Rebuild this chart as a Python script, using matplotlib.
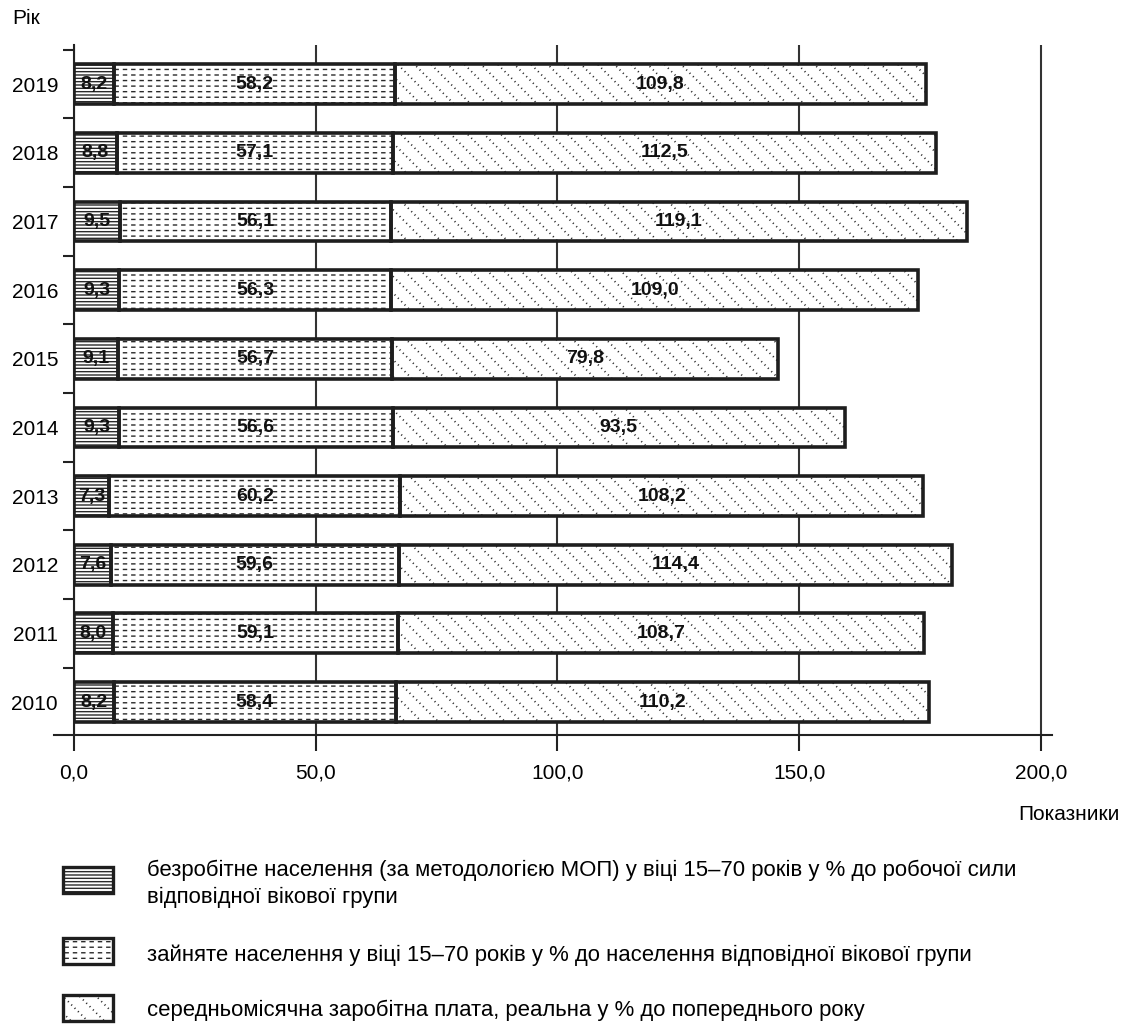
import matplotlib
matplotlib.use('Agg')
import matplotlib.pyplot as plt
from matplotlib.patches import Rectangle
import numpy as np

years = ['2010', '2011', '2012', '2013', '2014', '2015', '2016', '2017', '2018', '2019']
unemployed = [8.2, 8.0, 7.6, 7.3, 9.3, 9.1, 9.3, 9.5, 8.8, 8.2]
employed = [58.4, 59.1, 59.6, 60.2, 56.6, 56.7, 56.3, 56.1, 57.1, 58.2]
wages = [110.2, 108.7, 114.4, 108.2, 93.5, 79.8, 109.0, 119.1, 112.5, 109.8]
x_ticks = [0, 50, 100, 150, 200]
x_tick_labels = ['0,0', '50,0', '100,0', '150,0', '200,0']
legend_labels = [
    ['безробітне населення (за методологією МОП) у віці 15–70 років у % до робочої сили',
     'відповідної вікової групи'],
    ['зайняте населення у віці 15–70 років у % до населення відповідної вікової групи'],
    ['середньомісячна заробітна плата, реальна у % до попереднього року'],
]

plt.rcParams['font.family'] = ['Liberation Sans', 'DejaVu Sans']
plt.rcParams['hatch.linewidth'] = 1.0

W, H = 1126, 1025
fig = plt.figure(figsize=(W / 100, H / 100), dpi=100)
ax = fig.add_axes([74 / W, 1 - 735 / H, (1052 - 74) / W, (735 - 45) / H])

# (line hatch, line colour, line width, breaking hatch (white) or None, white width)
styles = [
    ('-----', '#2a2a2a', 1.0, None, 0),
    ('---', '#2a2a2a', 1.0, '||', 2.8),
    ('\\\\', '#2a2a2a', 1.3, '/////', 2.6),
]
edge = '#1e1e1e'


def set_hlw(p, w):
    try:
        p.set_hatch_linewidth(w)
    except AttributeError:
        pass


y = np.arange(len(years))
h = 0.58
left = np.zeros(len(years))
for vals, (hatch, hc, hw, brk, bw) in zip([unemployed, employed, wages], styles):
    vals = np.array(vals)
    plt.rcParams['hatch.linewidth'] = hw
    bars = ax.barh(y, vals, left=left, height=h, color='white', hatch=hatch,
                   edgecolor=hc, linewidth=0, zorder=2)
    for p in bars:
        set_hlw(p, hw)
    if brk:
        plt.rcParams['hatch.linewidth'] = bw
        bars2 = ax.barh(y, vals, left=left, height=h, fill=False, hatch=brk,
                        edgecolor='white', linewidth=0, zorder=2.5)
        for p in bars2:
            set_hlw(p, bw)
    ax.barh(y, vals, left=left, height=h, fill=False, edgecolor=edge,
            linewidth=2.6, zorder=3)
    for yi, l, v in zip(y, left, vals):
        ax.text(l + v / 2, yi, f'{v:.1f}'.replace('.', ','), ha='center', va='center',
                fontsize=14, fontweight='bold', color='#111111', zorder=4)
    left = left + vals

ax.set_xlim(0, 202.3)
ax.set_ylim(-0.48, 9.57)
for s in ['top', 'right', 'bottom']:
    ax.spines[s].set_visible(False)
ax.spines['left'].set_linewidth(1.5)
ax.spines['left'].set_color('#222222')
ax.set_axisbelow(True)
ax.xaxis.grid(True, color='#333333', linewidth=1.5)
ax.set_xticks(x_ticks)
ax.set_xticklabels(x_tick_labels)
ax.tick_params(axis='x', length=11.5, width=1.5, color='#222222', pad=9, labelsize=15)
ax.plot([-20 / 978, 1], [0, 0], transform=ax.transAxes, clip_on=False,
        color='#222222', linewidth=1.5)
ax.set_yticks(y)
ax.set_yticklabels(years)
ax.set_yticks(y + 0.5, minor=True)
ax.tick_params(axis='y', which='major', length=0, pad=11.5, labelsize=15)
ax.tick_params(axis='y', which='minor', length=8, width=1.5, color='#222222')

fig.text(12 / W, 1 - 19 / H, 'Рік', fontsize=15, va='center', ha='left')
fig.text(1120 / W, 1 - 815 / H, 'Показники', fontsize=15, va='center', ha='right')

legend_rows = [(870, 880), (955, 951), (1010, 1008)]
pw, ph = 50, 26
for (hatch, hc, hw, brk, bw), lines, (ty, py) in zip(styles, legend_labels, legend_rows):
    xy = (63 / W, 1 - (py + ph / 2) / H)
    plt.rcParams['hatch.linewidth'] = hw
    r = Rectangle(xy, pw / W, ph / H, transform=fig.transFigure,
                  facecolor='white', hatch=hatch, edgecolor=hc, linewidth=0)
    set_hlw(r, hw)
    fig.add_artist(r)
    if brk:
        plt.rcParams['hatch.linewidth'] = bw
        rb = Rectangle(xy, pw / W, ph / H, transform=fig.transFigure,
                       fill=False, hatch=brk, edgecolor='white', linewidth=0)
        set_hlw(rb, bw)
        fig.add_artist(rb)
    r2 = Rectangle(xy, pw / W, ph / H, transform=fig.transFigure,
                   fill=False, edgecolor=edge, linewidth=2.4)
    fig.add_artist(r2)
    for k, line in enumerate(lines):
        fig.text(147 / W, 1 - (ty + 27 * k) / H, line, fontsize=15.9, va='center', ha='left')

fig.savefig('out.png', dpi=100)
